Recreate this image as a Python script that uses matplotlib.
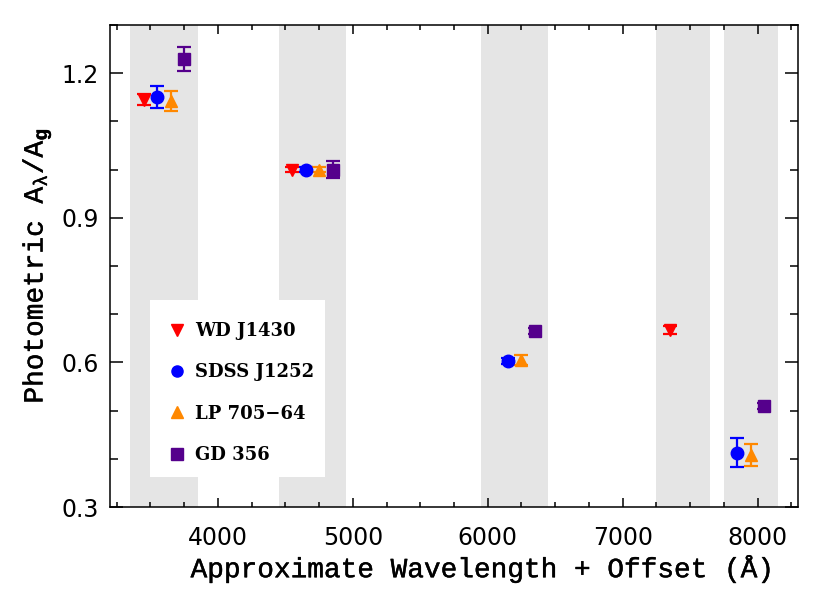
import matplotlib
matplotlib.use("Agg")
import matplotlib.pyplot as plt
import matplotlib.patheffects as pe
from matplotlib.lines import Line2D
from matplotlib.patches import Rectangle
from matplotlib.ticker import MultipleLocator

# grey wavelength bands
band_lo = [3350, 4450, 5950, 7250, 7750]
band_hi = [3850, 4950, 6450, 7650, 8150]

# series: wavelength + offset, A_lambda/A_g, error
wd_x = [3450, 4550, 7350]
wd_y = [1.145, 1.000, 0.667]
wd_err = [0.012, 0.006, 0.009]

sdss_x = [3550, 4650, 6150, 7850]
sdss_y = [1.150, 1.000, 0.603, 0.413]
sdss_err = [0.023, 0.005, 0.006, 0.030]

lp_x = [3650, 4750, 6250, 7950]
lp_y = [1.142, 1.000, 0.605, 0.408]
lp_err = [0.021, 0.006, 0.011, 0.022]

gd_x = [3750, 4850, 6350, 8050]
gd_y = [1.229, 1.000, 0.665, 0.510]
gd_err = [0.025, 0.017, 0.007, 0.006]

names = ["WD J1430", "SDSS J1252", "LP 705\u221264", "GD 356"]
colors = ["#ff0000", "#0000ff", "#ff8800", "#55008c"]
markers = ["v", "o", "^", "s"]

plt.rcParams["font.family"] = "DejaVu Sans"
plt.rcParams["mathtext.fontset"] = "custom"
plt.rcParams["mathtext.rm"] = "Liberation Mono"
plt.rcParams["mathtext.it"] = "Liberation Mono"
plt.rcParams["mathtext.bf"] = "Liberation Mono:bold"

fig = plt.figure(figsize=(8.3, 5.93), dpi=100)
ax = fig.add_axes([0.1325, 0.145, 0.829, 0.813])

for lo, hi in zip(band_lo, band_hi):
    ax.axvspan(lo, hi, color="#e5e5e5", lw=0, zorder=0)

series = [(wd_x, wd_y, wd_err), (sdss_x, sdss_y, sdss_err),
          (lp_x, lp_y, lp_err), (gd_x, gd_y, gd_err)]
for (x, y, e), c, m in zip(series, colors, markers):
    ax.errorbar(x, y, yerr=e, fmt=m, color=c, ms=9, elinewidth=1.6,
                capsize=5, capthick=1.6, zorder=3)

ax.set_xlim(3200, 8300)
ax.set_ylim(0.3, 1.3)
ax.xaxis.set_major_locator(MultipleLocator(1000))
ax.xaxis.set_minor_locator(MultipleLocator(250))
ax.yaxis.set_major_locator(MultipleLocator(0.3))
ax.yaxis.set_minor_locator(MultipleLocator(0.1))
ax.yaxis.set_major_formatter(plt.FormatStrFormatter("%.1f"))
ax.tick_params(which="both", direction="in", top=True, right=True,
               width=1.1, labelsize=17)
ax.tick_params(axis="x", which="major", length=6.5, pad=14)
ax.tick_params(axis="x", which="minor", length=3.5)
ax.tick_params(axis="y", which="major", length=9.5, pad=8)
ax.tick_params(axis="y", which="minor", length=5.5)
for s in ax.spines.values():
    s.set_linewidth(1.1)

# slightly heavier strokes for the monospace labels
thick = [pe.withStroke(linewidth=0.3, foreground="black")]
lab_font = {"family": "Liberation Mono", "size": 20}
xl = ax.set_xlabel("Approximate Wavelength + Offset (\u00c5)", fontdict=lab_font)
ax.xaxis.set_label_coords(0.54, -0.1)
yl = ax.set_ylabel(r"Photometric A$_\lambda$/A$_\mathbf{g}$", fontdict=lab_font,
                   labelpad=6)
xl.set_path_effects(thick)
yl.set_path_effects(thick)

# white legend box
ax.add_patch(Rectangle((0.058, 0.062), 0.254, 0.367, transform=ax.transAxes,
                       facecolor="white", edgecolor="none", zorder=4))
handles = [Line2D([], [], ls="none", marker=m, color=c, ms=8)
           for m, c in zip(markers, colors)]
leg = ax.legend(handles, names, loc="upper left",
                bbox_to_anchor=(0.058, 0.429), borderaxespad=0,
                frameon=False, handlelength=0.6, handletextpad=0.7,
                labelspacing=1.3, borderpad=1.2,
                prop={"family": "DejaVu Serif", "weight": "bold", "size": 13})
leg.set_zorder(5)

fig.savefig("out.png", dpi=100)
